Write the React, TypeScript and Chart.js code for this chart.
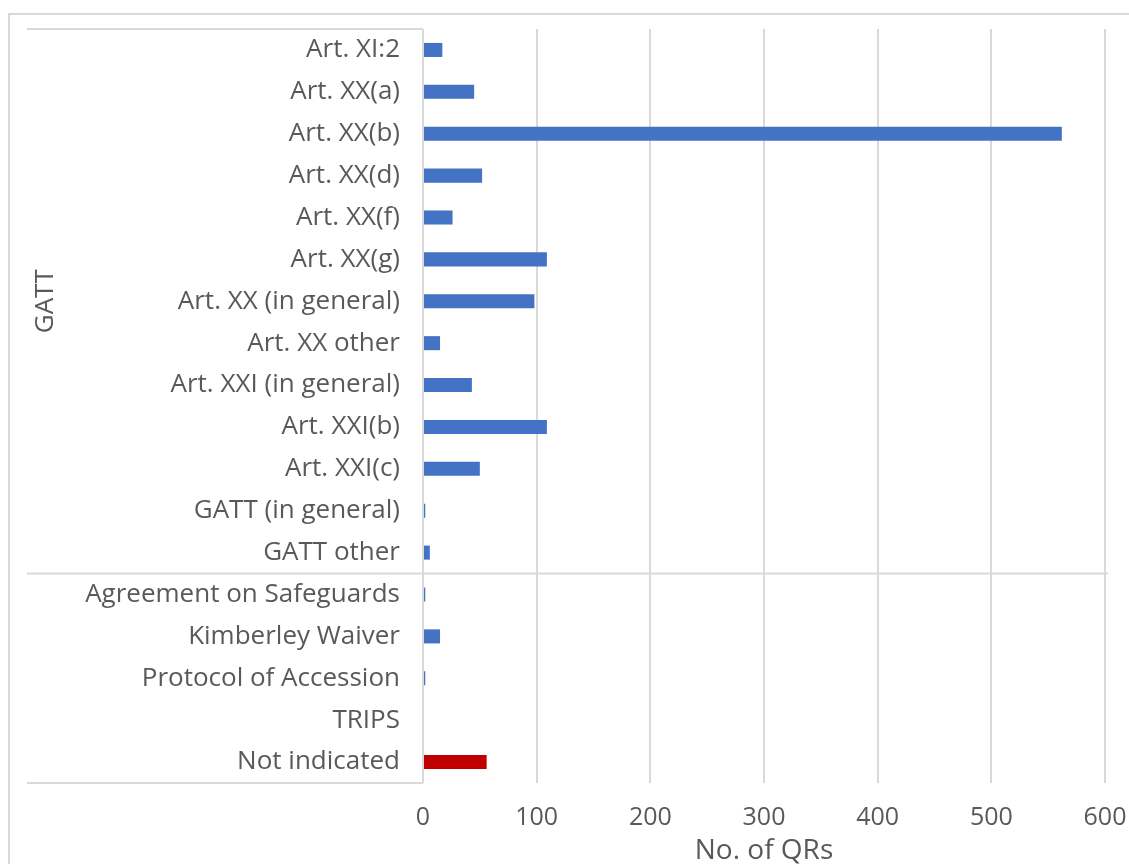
import React, { useEffect, useRef } from "react";
import { Chart, registerables } from "chart.js";

Chart.register(...registerables);

const categories: string[] = [
  "Art. XI:2",
  "Art. XX(a)",
  "Art. XX(b)",
  "Art. XX(d)",
  "Art. XX(f)",
  "Art. XX(g)",
  "Art. XX (in general)",
  "Art. XX other",
  "Art. XXI (in general)",
  "Art. XXI(b)",
  "Art. XXI(c)",
  "GATT (in general)",
  "GATT other",
  "Agreement on Safeguards",
  "Kimberley Waiver",
  "Protocol of Accession",
  "TRIPS",
  "Not indicated",
];

const qrCounts: number[] = [17, 45, 562, 52, 26, 109, 98, 15, 43, 109, 50, 2, 6, 2, 15, 2, 0, 56];

const barColors: string[] = [
  "#4472C4", "#4472C4", "#4472C4", "#4472C4", "#4472C4", "#4472C4",
  "#4472C4", "#4472C4", "#4472C4", "#4472C4", "#4472C4", "#4472C4",
  "#4472C4", "#4472C4", "#4472C4", "#4472C4", "#4472C4", "#C00000",
];

const xTicks: number[] = [0, 100, 200, 300, 400, 500, 600];
const groupLabel = "GATT";
const groupEndIndex = 12; // last category of the GATT group
const xTitle = "No. of QRs";

const FONT = '"Open Sans", "Noto Sans", sans-serif';
const TEXT = "#595959";
const LINE = "#D9D9D9";

const W = 1129;
const H = 864;

const groupPlugin = {
  id: "groupLines",
  afterDraw(chart: any) {
    const { ctx, chartArea } = chart;
    const y = chart.scales.y;
    const { top, bottom, left } = chartArea;
    const sep = (y.getPixelForValue(groupEndIndex) + y.getPixelForValue(groupEndIndex + 1)) / 2;
    ctx.save();
    ctx.strokeStyle = LINE;
    ctx.lineWidth = 2;
    // outer frame
    ctx.strokeRect(9, 14, 3000, 3000);
    ctx.beginPath();
    ctx.moveTo(27, top);
    ctx.lineTo(left, top);
    ctx.moveTo(27, bottom);
    ctx.lineTo(left, bottom);
    ctx.moveTo(27, sep);
    ctx.lineTo(chartArea.right + 3, sep);
    ctx.stroke();
    // group label
    ctx.fillStyle = TEXT;
    ctx.font = `26px ${FONT}`;
    ctx.textAlign = "center";
    ctx.textBaseline = "middle";
    ctx.translate(46, (top + sep) / 2);
    ctx.rotate(-Math.PI / 2);
    ctx.fillText(groupLabel, 0, 0);
    ctx.restore();
  },
};

export default function App() {
  const ref = useRef<HTMLCanvasElement | null>(null);

  useEffect(() => {
    if (!ref.current) return;
    const chart = new Chart(ref.current, {
      type: "bar",
      data: {
        labels: categories,
        datasets: [
          {
            data: qrCounts,
            backgroundColor: barColors,
            borderWidth: 0,
            barPercentage: 0.335,
            categoryPercentage: 1,
          },
        ],
      },
      options: {
        indexAxis: "y",
        animation: false,
        responsive: false,
        maintainAspectRatio: false,
        layout: { padding: { top: 29, right: 24, left: 0, bottom: 0 } },
        plugins: {
          legend: { display: false },
          tooltip: { enabled: false },
        },
        scales: {
          x: {
            min: 0,
            max: 600,
            afterBuildTicks: (scale: any) => {
              scale.ticks = xTicks.map((v) => ({ value: v }));
            },
            afterFit: (scale: any) => {
              scale.height = 81;
            },
            grid: {
              color: LINE,
              lineWidth: 2,
              drawTicks: true,
              tickLength: 20,
              tickColor: "rgba(0,0,0,0)",
            },
            border: { display: false },
            ticks: {
              padding: 0,
              color: TEXT,
              font: { family: FONT, size: 25 },
              maxRotation: 0,
            },
            title: {
              display: true,
              text: xTitle,
              color: TEXT,
              font: { family: FONT, size: 28, lineHeight: 1 },
              padding: { top: 0, bottom: -1 },
            },
          },
          y: {
            afterFit: (scale: any) => {
              scale.width = 423;
            },
            grid: {
              display: true,
              color: "rgba(0,0,0,0)",
              drawTicks: true,
              tickLength: 23,
              tickColor: "rgba(0,0,0,0)",
            },
            border: { display: false },
            ticks: {
              padding: 0,
              autoSkip: false,
              color: TEXT,
              font: { family: FONT, size: 26 },
            },
          },
        },
      },
      plugins: [groupPlugin],
    });
    document.fonts?.ready.then(() => chart.update());
    return () => chart.destroy();
  }, []);

  return (
    <div
      style={{
        position: "fixed",
        left: 0,
        top: 0,
        width: W,
        height: H,
        overflow: "hidden",
        background: "#fff",
      }}
    >
      <canvas ref={ref} width={W} height={H} style={{ display: "block" }} />
    </div>
  );
}
